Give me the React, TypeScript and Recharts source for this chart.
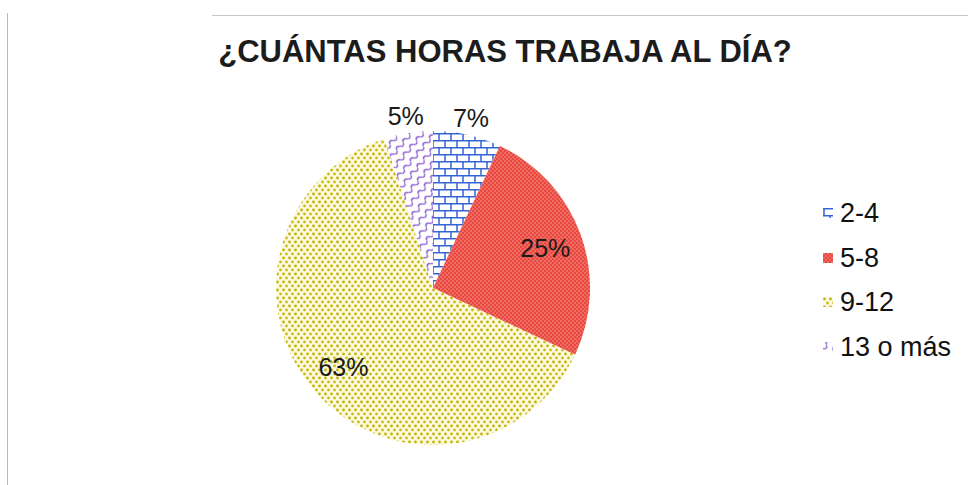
import { PieChart, Pie, Cell, Legend } from 'recharts'

const categories = ['2-4', '5-8', '9-12', '13 o más']
const shares = [7, 25, 63, 5]
const title = '¿CUÁNTAS HORAS TRABAJA AL DÍA?'

const FILLS = ['url(#brick)', 'url(#redDots)', 'url(#yellowDots)', 'url(#waves)']
const FONT = '"Liberation Sans", Arial, sans-serif'

const data = categories.map((name, i) => ({ name, value: shares[i] }))

const RAD = Math.PI / 180

function renderLabel(props: any) {
  const { cx, cy, midAngle, outerRadius, percent } = props
  const outside = percent < 0.1
  const r = outside ? outerRadius + 17 : outerRadius * 0.76
  const x = cx + r * Math.cos(-midAngle * RAD)
  const y = cy + r * Math.sin(-midAngle * RAD)
  return (
    <text
      x={x}
      y={y}
      textAnchor="middle"
      dominantBaseline="central"
      fontSize={25}
      fontFamily={FONT}
      fill="#1a1a1a"
    >
      {`${Math.round(percent * 100)}%`}
    </text>
  )
}

// legend drawn from the category list so the order stays as in the data
function LegendBox() {
  return (
    <div style={{ fontFamily: FONT, fontSize: 27, color: '#111' }}>
      {categories.map((name, i) => (
        <div key={name} style={{ height: 44.5, lineHeight: '44.5px', display: 'flex', alignItems: 'center' }}>
          <svg width={10} height={10} style={{ marginRight: 7 }}>
            <rect width={10} height={10} fill={FILLS[i]} />
          </svg>
          <span>{name}</span>
        </div>
      ))}
    </div>
  )
}

export default function App() {
  return (
    <div style={{ position: 'absolute', left: 0, top: 0, width: 968, height: 485, background: '#fff' }}>
      <div style={{ position: 'absolute', left: 7, top: 13, width: 1, height: 472, background: '#b8b8b8' }} />
      <div style={{ position: 'absolute', left: 212, top: 15, width: 756, height: 1, background: '#c8c4cc' }} />
      <div
        style={{
          position: 'absolute',
          left: 0,
          width: 1010,
          top: 36,
          textAlign: 'center',
          fontFamily: FONT,
          fontWeight: 'bold',
          fontSize: 31,
          lineHeight: '31px',
          color: '#1c1c1c',
          zIndex: 2,
        }}
      >
        {title}
      </div>
      <PieChart width={968} height={485} style={{ position: 'absolute', left: 0, top: 0 }}>
        <defs>
          <pattern id="brick" patternUnits="userSpaceOnUse" width={12} height={14}>
            <rect width={12} height={14} fill="#ffffff" />
            <path d="M0 0.7H12M0 7.7H12M1 0.7V7.7M7 7.7V14" stroke="#3564d4" strokeWidth={1.5} fill="none" />
          </pattern>
          <pattern id="redDots" patternUnits="userSpaceOnUse" width={4} height={4}>
            <rect width={4} height={4} fill="#e9483e" />
            <circle cx={1} cy={1} r={0.7} fill="#f7aba3" />
            <circle cx={3} cy={3} r={0.7} fill="#f7aba3" />
          </pattern>
          <pattern id="yellowDots" patternUnits="userSpaceOnUse" width={6} height={8}>
            <rect width={6} height={8} fill="#fbf9e0" />
            <circle cx={1.5} cy={2} r={1.4} fill="#c4b40a" />
            <circle cx={4.5} cy={6} r={1.4} fill="#cdbd14" />
          </pattern>
          <pattern id="waves" patternUnits="userSpaceOnUse" width={10} height={9} patternTransform="rotate(-50)">
            <rect width={10} height={9} fill="#ffffff" />
            <path d="M0 4.5Q2.5 0.5 5 4.5T10 4.5" stroke="#8a5ccf" strokeWidth={1.4} fill="none" />
          </pattern>
        </defs>
        <Pie
          data={data}
          dataKey="value"
          nameKey="name"
          cx={428}
          cy={283}
          outerRadius={157}
          startAngle={90}
          endAngle={-270}
          stroke="none"
          label={renderLabel}
          labelLine={false}
          isAnimationActive={false}
        >
          {data.map((d, i) => (
            <Cell key={d.name} fill={FILLS[i]} />
          ))}
        </Pie>
        <Legend
          layout="vertical"
          align="right"
          verticalAlign="top"
          content={<LegendBox />}
          wrapperStyle={{ left: 823, top: 191, width: 145 }}
        />
      </PieChart>
    </div>
  )
}
